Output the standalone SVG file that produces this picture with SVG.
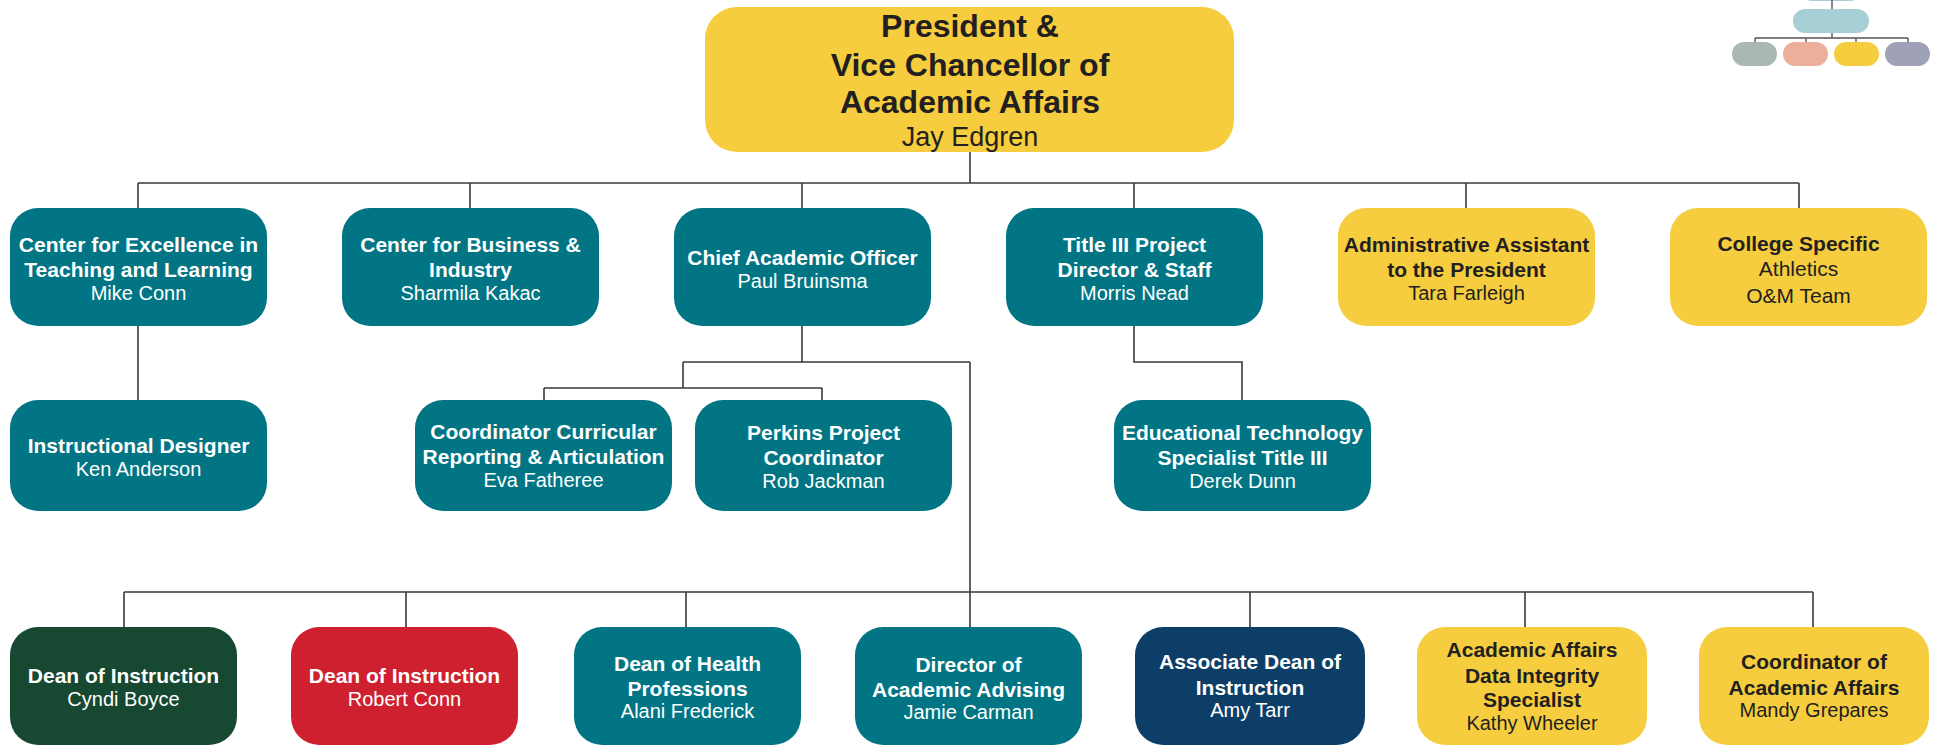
<svg xmlns="http://www.w3.org/2000/svg" width="1935" height="745" viewBox="0 0 1935 745">
<style>
.teal{fill:#017584}
.yel{fill:#f5cd3e}
.grn{fill:#164832}
.red{fill:#cf202f}
.navy{fill:#0c3e68}
text{font-family:"Liberation Sans",Arial,sans-serif;text-anchor:middle}
.b{font-weight:bold;font-size:21px}
.n{font-size:20px}
.w{fill:#ffffff}
.k{fill:#231f20}
.ln{fill:none;stroke:#3a3a3a;stroke-width:1.6}
.lg{fill:none;stroke:#555555;stroke-width:1.4}
</style>
<rect width="1935" height="745" fill="#ffffff"/>

<g id="connectors">
<path class="ln" d="M970 152V183M138 183H1799M138 183V208M470 183V208M802 183V208M1134 183V208M1466 183V208M1799 183V208"/>
<path class="ln" d="M138 326V400"/>
<path class="ln" d="M802 326V362M683 362H970M683 362V388M544 388H822M544 388V400M822 388V400M970 362V627"/>
<path class="ln" d="M1134 326V362H1242V400"/>
<path class="ln" d="M124 592H1813M124 592V627M406 592V627M686 592V627M1250 592V627M1525 592V627M1813 592V627"/>
</g>

<g id="legend">
<rect x="1800" y="-24" width="62" height="25" rx="12" fill="#a7d0d6"/>
<path class="lg" d="M1832 0V9M1832 33V38M1755 38H1908M1755 38V42M1806 38V42M1856 38V42M1908 38V42"/>
<rect x="1793" y="9" width="76" height="24" rx="12" fill="#a7d0d6"/>
<rect x="1732" y="42" width="45" height="24" rx="12" fill="#a9b9b1"/>
<rect x="1783" y="42" width="45" height="24" rx="12" fill="#ecaf9c"/>
<rect x="1834" y="42" width="45" height="24" rx="12" fill="#f5cd3e"/>
<rect x="1885" y="42" width="45" height="24" rx="12" fill="#9ea1b8"/>
</g>

<g id="president">
<rect class="yel" x="705" y="7" width="529" height="145" rx="32"/>
<text class="k" font-weight="bold" font-size="32" x="970" y="37">President &amp;</text>
<text class="k" font-weight="bold" font-size="32" x="970" y="76">Vice Chancellor of</text>
<text class="k" font-weight="bold" font-size="32" x="970" y="113">Academic Affairs</text>
<text class="k" font-size="27" x="970" y="146">Jay Edgren</text>
</g>

<g id="cetl">
<rect class="teal" x="10" y="208" width="257" height="118" rx="28"/>
<text class="b w" x="138.5" y="252">Center for Excellence in</text>
<text class="b w" x="138.5" y="277">Teaching and Learning</text>
<text class="n w" x="138.5" y="300">Mike Conn</text>
</g>

<g id="cbi">
<rect class="teal" x="342" y="208" width="257" height="118" rx="28"/>
<text class="b w" x="470.5" y="252">Center for Business &amp;</text>
<text class="b w" x="470.5" y="277">Industry</text>
<text class="n w" x="470.5" y="300">Sharmila Kakac</text>
</g>

<g id="cao">
<rect class="teal" x="674" y="208" width="257" height="118" rx="28"/>
<text class="b w" x="802.5" y="265">Chief Academic Officer</text>
<text class="n w" x="802.5" y="288">Paul Bruinsma</text>
</g>

<g id="title3">
<rect class="teal" x="1006" y="208" width="257" height="118" rx="28"/>
<text class="b w" x="1134.5" y="252">Title III Project</text>
<text class="b w" x="1134.5" y="277">Director &amp; Staff</text>
<text class="n w" x="1134.5" y="300">Morris Nead</text>
</g>

<g id="admin">
<rect class="yel" x="1338" y="208" width="257" height="118" rx="28"/>
<text class="b k" x="1466.5" y="252">Administrative Assistant</text>
<text class="b k" x="1466.5" y="277">to the President</text>
<text class="n k" x="1466.5" y="300">Tara Farleigh</text>
</g>

<g id="college">
<rect class="yel" x="1670" y="208" width="257" height="118" rx="28"/>
<text class="b k" x="1798.5" y="251">College Specific</text>
<text class="k" font-size="21" x="1798.5" y="276">Athletics</text>
<text class="k" font-size="21" x="1798.5" y="303">O&amp;M Team</text>
</g>

<g id="instr-designer">
<rect class="teal" x="10" y="400" width="257" height="111" rx="28"/>
<text class="b w" x="138.5" y="453">Instructional Designer</text>
<text class="n w" x="138.5" y="476">Ken Anderson</text>
</g>

<g id="coord-curricular">
<rect class="teal" x="415" y="400" width="257" height="111" rx="28"/>
<text class="b w" x="543.5" y="439">Coordinator Curricular</text>
<text class="b w" x="543.5" y="464">Reporting &amp; Articulation</text>
<text class="n w" x="543.5" y="487">Eva Fatheree</text>
</g>

<g id="perkins">
<rect class="teal" x="695" y="400" width="257" height="111" rx="28"/>
<text class="b w" x="823.5" y="440">Perkins Project</text>
<text class="b w" x="823.5" y="465">Coordinator</text>
<text class="n w" x="823.5" y="488">Rob Jackman</text>
</g>

<g id="edtech">
<rect class="teal" x="1114" y="400" width="257" height="111" rx="28"/>
<text class="b w" x="1242.5" y="440">Educational Technology</text>
<text class="b w" x="1242.5" y="465">Specialist Title III</text>
<text class="n w" x="1242.5" y="488">Derek Dunn</text>
</g>

<g id="dean-boyce">
<rect class="grn" x="10" y="627" width="227" height="118" rx="28"/>
<text class="b w" x="123.5" y="683">Dean of Instruction</text>
<text class="n w" x="123.5" y="706">Cyndi Boyce</text>
</g>

<g id="dean-conn">
<rect class="red" x="291" y="627" width="227" height="118" rx="28"/>
<text class="b w" x="404.5" y="683">Dean of Instruction</text>
<text class="n w" x="404.5" y="706">Robert Conn</text>
</g>

<g id="dean-health">
<rect class="teal" x="574" y="627" width="227" height="118" rx="28"/>
<text class="b w" x="687.5" y="671">Dean of Health</text>
<text class="b w" x="687.5" y="696">Professions</text>
<text class="n w" x="687.5" y="718">Alani Frederick</text>
</g>

<g id="advising">
<rect class="teal" x="855" y="627" width="227" height="118" rx="28"/>
<text class="b w" x="968.5" y="672">Director of</text>
<text class="b w" x="968.5" y="697">Academic Advising</text>
<text class="n w" x="968.5" y="719">Jamie Carman</text>
</g>

<g id="assoc-dean">
<rect class="navy" x="1135" y="627" width="230" height="118" rx="28"/>
<text class="b w" x="1250" y="669">Associate Dean of</text>
<text class="b w" x="1250" y="695">Instruction</text>
<text class="n w" x="1250" y="717">Amy Tarr</text>
</g>

<g id="data-integrity">
<rect class="yel" x="1417" y="627" width="230" height="118" rx="28"/>
<text class="b k" x="1532" y="657">Academic Affairs</text>
<text class="b k" x="1532" y="683">Data Integrity</text>
<text class="b k" x="1532" y="707">Specialist</text>
<text class="n k" x="1532" y="730">Kathy Wheeler</text>
</g>

<g id="coord-aa">
<rect class="yel" x="1699" y="627" width="230" height="118" rx="28"/>
<text class="b k" x="1814" y="669">Coordinator of</text>
<text class="b k" x="1814" y="695">Academic Affairs</text>
<text class="n k" x="1814" y="717">Mandy Grepares</text>
</g>
</svg>
